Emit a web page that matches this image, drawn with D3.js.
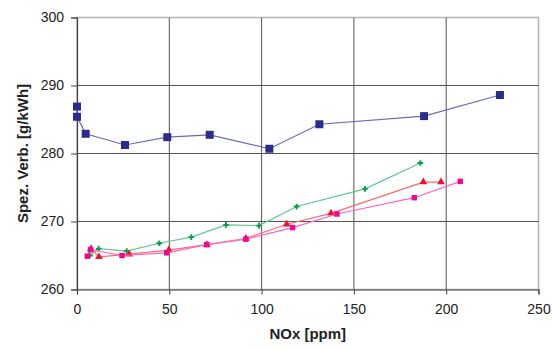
<!DOCTYPE html>
<html>
<head>
<meta charset="utf-8">
<script src="https://cdn.jsdelivr.net/npm/d3@7"></script>
<style>
  body { margin: 0; background: #fff; }
  text { font-family: 'Liberation Sans', Arial, sans-serif; }
</style>
</head>
<body>
<div id="chart"></div>
<script>
// NOx [ppm] / spez. Verbrauch [g/kWh]
const blueX = [0, 0, 4.7, 26, 48.9, 71.9, 104.2, 131.3, 188, 229.1]
const blueY = [286.9, 285.4, 282.9, 281.25, 282.4, 282.75, 280.7, 284.3, 285.5, 288.6]

const greenX = [7, 11.7, 26.9, 44.6, 61.9, 80.7, 98.6, 119, 156, 186]
const greenY = [265.0, 266.0, 265.65, 266.8, 267.7, 269.5, 269.4, 272.2, 274.8, 278.6]

const redX = [7.6, 11.9, 28.3, 49.7, 70.3, 91.5, 113.6, 137.6, 187.6, 197.2]
const redY = [266.0, 264.8, 265.2, 265.8, 266.6, 267.5, 269.6, 271.2, 275.8, 275.8]

const pinkX = [5.6, 7.3, 24.4, 48.6, 70.3, 91.5, 116.8, 140.8, 182.7, 207.6]
const pinkY = [264.9, 265.85, 265.0, 265.4, 266.6, 267.4, 269.1, 271.1, 273.5, 275.9]

const xTicks = [0, 50, 100, 150, 200, 250]
const yTicks = [260, 270, 280, 290, 300]

const margin = { top: 17.5, right: 15, bottom: 60.5, left: 77 }
const width = 553 - margin.left - margin.right
const height = 350 - margin.top - margin.bottom

const svg = d3
  .select('#chart')
  .append('svg')
  .attr('width', 553)
  .attr('height', 350)
  .append('g')
  .attr('transform', 'translate(' + margin.left + ',' + margin.top + ')')

const xPositionScale = d3.scaleLinear().domain([0, 250]).range([0, 461.5])
const yPositionScale = d3.scaleLinear().domain([260, 300]).range([height, 0])

// plot frame (light grey top / right)
svg
  .append('rect')
  .attr('x', 0)
  .attr('y', 0)
  .attr('width', xPositionScale(250))
  .attr('height', height)
  .attr('fill', 'none')
  .attr('stroke', '#b4b4b4')
  .attr('stroke-width', 1.5)

// grid
svg
  .selectAll('.vgrid')
  .data(xTicks.slice(1, -1))
  .enter()
  .append('line')
  .attr('class', 'vgrid')
  .attr('x1', d => xPositionScale(d))
  .attr('x2', d => xPositionScale(d))
  .attr('y1', 0)
  .attr('y2', height)
  .attr('stroke', '#555')
  .attr('stroke-width', 1)

svg
  .selectAll('.hgrid')
  .data(yTicks.slice(1, -1))
  .enter()
  .append('line')
  .attr('class', 'hgrid')
  .attr('x1', 0)
  .attr('x2', xPositionScale(250))
  .attr('y1', d => yPositionScale(d))
  .attr('y2', d => yPositionScale(d))
  .attr('stroke', '#555')
  .attr('stroke-width', 1)

const xAxis = d3
  .axisBottom(xPositionScale)
  .tickValues(xTicks)
  .tickSize(5)
  .tickPadding(10)

const yAxis = d3
  .axisLeft(yPositionScale)
  .tickValues(yTicks)
  .tickSize(6)
  .tickPadding(7)

svg
  .append('g')
  .attr('class', 'axis x-axis')
  .attr('transform', 'translate(0,' + height + ')')
  .call(xAxis)

svg
  .append('g')
  .attr('class', 'axis y-axis')
  .call(yAxis)

svg.selectAll('.axis .domain').attr('stroke', '#444').attr('stroke-width', 1.2)
svg.selectAll('.axis .tick line').attr('stroke', '#444')
svg
  .selectAll('.axis text')
  .attr('font-size', 14)
  .attr('fill', '#222')
  .attr('font-family', "'Liberation Sans', Arial, sans-serif")

svg
  .append('text')
  .text('NOx [ppm]')
  .attr('x', xPositionScale(125))
  .attr('y', height + 49)
  .attr('text-anchor', 'middle')
  .attr('font-size', 15)
  .attr('font-weight', 'bold')
  .attr('fill', '#222')

svg
  .append('text')
  .text('Spez. Verb. [g/kWh]')
  .attr('transform', 'translate(-49.5,' + height / 2 + ') rotate(-90)')
  .attr('text-anchor', 'middle')
  .attr('font-size', 15)
  .attr('font-weight', 'bold')
  .attr('fill', '#222')

const line = d3
  .line()
  .x(d => xPositionScale(d[0]))
  .y(d => yPositionScale(d[1]))

function drawSeries(xs, ys, lineColor, markColor, shape, size) {
  const pts = xs.map((x, i) => [x, ys[i]])
  svg
    .append('path')
    .datum(pts)
    .attr('d', line)
    .attr('fill', 'none')
    .attr('stroke', lineColor)
    .attr('stroke-width', 1.2)

  svg
    .append('g')
    .selectAll('path')
    .data(pts)
    .enter()
    .append('path')
    .attr('d', d3.symbol().type(shape).size(size))
    .attr('transform', d => 'translate(' + xPositionScale(d[0]) + ',' + yPositionScale(d[1]) + ')')
    .attr('fill', markColor)
}

drawSeries(greenX, greenY, '#5fc88f', '#0a9a50', d3.symbolCross, 18)
drawSeries(redX, redY, '#ff6a6a', '#ee1133', d3.symbolTriangle, 26)
drawSeries(pinkX, pinkY, '#ff66c4', '#ee0a8c', d3.symbolSquare, 30)
drawSeries(blueX, blueY, '#6a6ab8', '#2b2b8f', d3.symbolSquare, 64)
</script>
</body>
</html>
